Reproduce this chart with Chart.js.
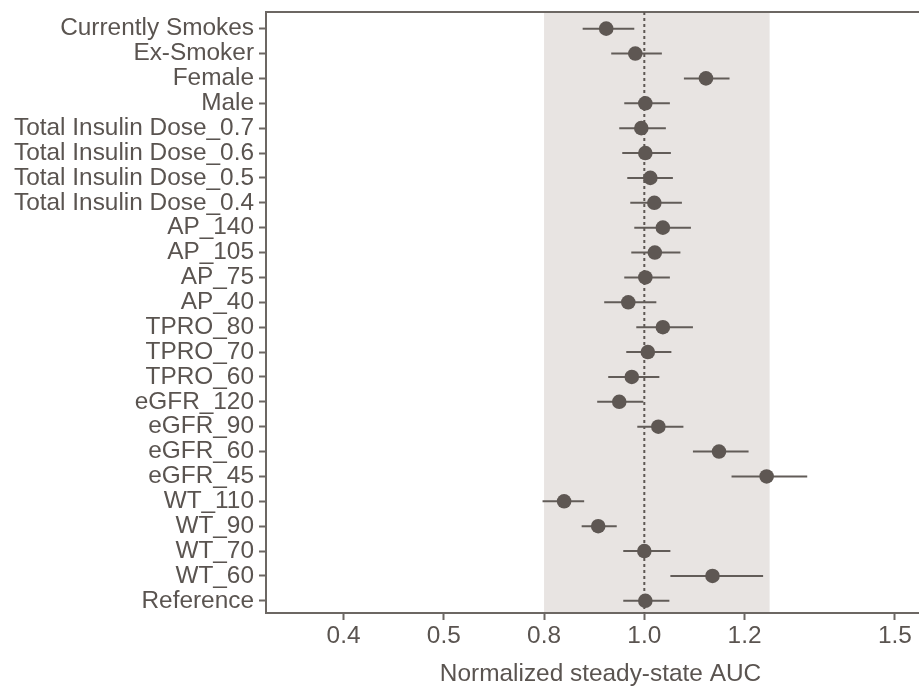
<!DOCTYPE html>
<html>
<head>
<meta charset="utf-8">
<script src="https://cdn.jsdelivr.net/npm/chart.js@4.4.1/dist/chart.umd.min.js"></script>
<style>
  html, body { margin: 0; padding: 0; background: #ffffff; overflow: hidden; }
  #wrap { width: 935px; height: 686px; }
</style>
</head>
<body>
<div id="wrap"><canvas id="forest" width="935" height="686"></canvas></div>
<script>
// rows, top to bottom
const categories = [
  'Currently Smokes', 'Ex-Smoker', 'Female', 'Male',
  'Total Insulin Dose_0.7', 'Total Insulin Dose_0.6', 'Total Insulin Dose_0.5', 'Total Insulin Dose_0.4',
  'AP_140', 'AP_105', 'AP_75', 'AP_40',
  'TPRO_80', 'TPRO_70', 'TPRO_60',
  'eGFR_120', 'eGFR_90', 'eGFR_60', 'eGFR_45',
  'WT_110', 'WT_90', 'WT_70', 'WT_60', 'Reference'
];
const estimate = [0.924, 0.982, 1.123, 1.002, 0.994, 1.002, 1.012, 1.020, 1.037, 1.021, 1.002, 0.968,
  1.037, 1.007, 0.975, 0.950, 1.028, 1.149, 1.244, 0.840, 0.908, 1.000, 1.136, 1.002];
const lower = [0.877, 0.934, 1.079, 0.960, 0.950, 0.956, 0.966, 0.972, 0.980, 0.974, 0.960, 0.920,
  0.984, 0.964, 0.928, 0.906, 0.986, 1.097, 1.174, 0.797, 0.875, 0.958, 1.052, 0.958];
const upper = [0.980, 1.035, 1.170, 1.051, 1.043, 1.053, 1.057, 1.075, 1.093, 1.072, 1.051, 1.024,
  1.097, 1.054, 1.030, 0.998, 1.078, 1.208, 1.325, 0.880, 0.945, 1.052, 1.237, 1.050];

const tickValues = [0.4, 0.6, 0.8, 1.0, 1.2, 1.5];
const tickLabels = ['0.4', '0.5', '0.8', '1.0', '1.2', '1.5'];
const refValue = 1.0;
const bandLow = 0.8;
const bandHigh = 1.25;
const xTitle = 'Normalized steady-state AUC';

const ink = '#5a5450';
const dotColor = '#5e5753';
const lineColor = '#625c58';
const axisColor = '#6c6763';
const font = { family: "'Liberation Sans', Arial, sans-serif", size: 24.4 };

const yMin = -0.67;
const yMax = 23.49;

// 0.8 - 1.25 band and the box frame
const backdrop = {
  id: 'backdrop',
  beforeDraw(chart) {
    const { ctx, chartArea, scales } = chart;
    const x0 = scales.x.getPixelForValue(bandLow);
    const x1 = scales.x.getPixelForValue(bandHigh);
    ctx.save();
    ctx.fillStyle = '#e8e4e2';
    ctx.fillRect(x0, chartArea.top, x1 - x0, chartArea.bottom - chartArea.top);
    ctx.strokeStyle = axisColor;
    ctx.lineWidth = 2;
    ctx.beginPath();
    ctx.moveTo(chartArea.left, chartArea.top);
    ctx.lineTo(chartArea.right, chartArea.top);
    ctx.lineTo(chartArea.right, chartArea.bottom);
    ctx.stroke();
    ctx.restore();
  }
};

const ciSets = categories.map((c, i) => ({
  type: 'line',
  label: c,
  data: [{ x: lower[i], y: i }, { x: upper[i], y: i }],
  borderColor: lineColor,
  borderWidth: 2,
  pointRadius: 0,
  order: 2
}));

const refLine = {
  type: 'line',
  label: 'ref',
  data: [{ x: refValue, y: yMin }, { x: refValue, y: yMax }],
  borderColor: dotColor,
  borderWidth: 2,
  borderDash: [3, 3],
  pointRadius: 0,
  order: 3
};

const points = {
  type: 'scatter',
  label: 'estimate',
  data: estimate.map((v, i) => ({ x: v, y: i })),
  backgroundColor: dotColor,
  borderColor: dotColor,
  borderWidth: 0,
  pointRadius: 7.3,
  pointHoverRadius: 7.3,
  order: 1
};

new Chart(document.getElementById('forest'), {
  type: 'scatter',
  data: { datasets: [refLine, ...ciSets, points] },
  options: {
    responsive: false,
    animation: false,
    devicePixelRatio: 1,
    layout: { autoPadding: false, padding: { top: 12, right: 0, bottom: 0, left: 0 } },
    plugins: { legend: { display: false }, tooltip: { enabled: false } },
    scales: {
      x: {
        type: 'linear',
        min: 0.2453,
        max: 1.5799,
        afterBuildTicks: s => { s.ticks = tickValues.map(v => ({ value: v })); },
        afterFit: s => { s.height = 73; s.paddingLeft = 0; s.paddingRight = 0; },
        ticks: {
          color: ink,
          font: font,
          padding: 2,
          maxRotation: 0,
          autoSkip: false,
          callback: (v) => tickLabels[tickValues.indexOf(v)]
        },
        grid: { drawOnChartArea: false, tickLength: 7, tickColor: axisColor, tickWidth: 2 },
        border: { color: axisColor, width: 2 },
        title: {
          display: true,
          text: xTitle,
          color: ink,
          font: { family: font.family, size: 24.4, lineHeight: 1 },
          padding: { top: 0, bottom: 0 }
        }
      },
      y: {
        type: 'linear',
        reverse: true,
        min: yMin,
        max: yMax,
        afterBuildTicks: s => { s.ticks = categories.map((c, i) => ({ value: i })); },
        afterFit: s => { s.width = 266; s.paddingTop = 0; s.paddingBottom = 0; },
        ticks: {
          color: ink,
          font: font,
          padding: 5,
          autoSkip: false,
          callback: (v) => categories[v]
        },
        grid: { drawOnChartArea: false, tickLength: 7, tickColor: axisColor, tickWidth: 2 },
        border: { color: axisColor, width: 2 }
      }
    }
  },
  plugins: [backdrop]
});
</script>
</body>
</html>
